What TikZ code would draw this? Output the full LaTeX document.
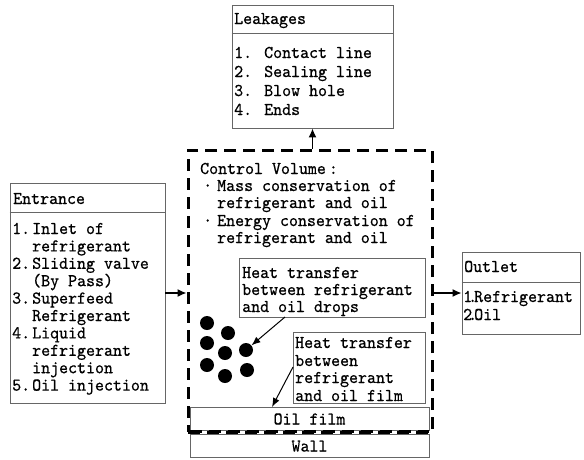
\documentclass[tikz,border=0pt]{standalone}
\usepackage{fontspec}
\setmonofont{lmmono10-regular.otf}[FakeStretch=0.95, FakeBold=0.6]
\usetikzlibrary{arrows.meta}
\definecolor{boxgray}{gray}{0.4}
\tikzset{
  box/.style={draw=boxgray, line width=0.9pt, fill=white, rectangle, inner sep=0pt},
  txt/.style={anchor=base west, inner sep=0pt, font=\ttfamily\fontsize{18}{17}\selectfont},
  ctxt/.style={anchor=base, inner sep=0pt, font=\ttfamily\fontsize{18}{17}\selectfont},
  cvline/.style={draw=black, line width=3pt, dash pattern=on 12pt off 7pt},
  arr/.style={line width=1.4pt, -{Latex[length=9pt,width=8pt]}},
  thinarr/.style={line width=1pt, -{Latex[length=9pt,width=7pt]}},
  dot/.style={circle, fill=black, inner sep=0pt, minimum size=14pt}
}
\newcommand{\nb}[2]{\makebox[#1][l]{#2}}
\begin{document}
\begin{tikzpicture}[x=1pt,y=-1pt]
\useasboundingbox (0,0) rectangle (584,459);
% control volume
\node[cvline, rectangle, minimum width=244pt, minimum height=282pt, inner sep=0pt] (cv) at (310,291) {};
% boxes
\node[box, minimum width=161pt, minimum height=123pt] (leak) at (312.5,66.5) {};
\node[box, minimum width=155pt, minimum height=220pt] (ent) at (87.5,293) {};
\node[box, minimum width=118pt, minimum height=82pt] (out) at (521,293) {};
\node[box, minimum width=186pt, minimum height=59pt] (drops) at (332,287.5) {};
\node[box, minimum width=132pt, minimum height=71pt] (film) at (359,367.5) {};
\node[box, minimum width=239pt, minimum height=23pt] (oil) at (309.5,418.5) {};
\node[box, minimum width=239pt, minimum height=23pt] (wall) at (309.5,445.5) {};
\draw[cvline] (oil.south west) ++(0,1.5) coordinate (bl) -- (oil.south east |- bl);
% title separators
\draw[draw=boxgray, line width=0.9pt] (leak.west |- 0,33) -- (leak.east |- 0,33);
\draw[draw=boxgray, line width=0.9pt] (ent.west |- 0,212) -- (ent.east |- 0,212);
\draw[draw=boxgray, line width=0.9pt] (out.west |- 0,282) -- (out.east |- 0,282);
% Leakages text
\node[txt] (l0) at (234,24) {Leakages};
\node[txt] (l1) at (234,58) {\nb{30pt}{1.}Contact line};
\node[txt] (l2) at (234,77) {\nb{30pt}{2.}Sealing line};
\node[txt] (l3) at (234,96) {\nb{30pt}{3.}Blow hole};
\node[txt] (l4) at (234,115) {\nb{30pt}{4.}Ends};
% Entrance text
\node[txt] (e0) at (13,204) {Entrance};
\node[txt] (e1) at (12,234) {\nb{20pt}{1.}Inlet of};
\node[txt] (e2) at (32,251.4) {refrigerant};
\node[txt] (e3) at (12,268.8) {\nb{20pt}{2.}Sliding valve};
\node[txt] (e4) at (32,286.2) {(By Pass)};
\node[txt] (e5) at (12,303.6) {\nb{20pt}{3.}Superfeed};
\node[txt] (e6) at (32,321) {Refrigerant};
\node[txt] (e7) at (12,338.4) {\nb{20pt}{4.}Liquid};
\node[txt] (e8) at (32,355.8) {refrigerant};
\node[txt] (e9) at (32,373.2) {injection};
\node[txt] (e10) at (12,390.6) {\nb{20pt}{5.}Oil injection};
% Outlet text
\node[txt] (o0) at (464,272) {Outlet};
\node[txt] (o1) at (463,302) {\nb{11pt}{1\kern-4pt.}Refrigerant};
\node[txt] (o2) at (463,320) {\nb{11pt}{2\kern-4pt.}Oil};
% Control volume text
\node[txt] (c0) at (200,174) {Control Volume\,:};
\node[txt] (c1) at (203,191) {\nb{14pt}{·}Mass conservation of};
\node[txt] (c2) at (217,208) {refrigerant and oil};
\node[txt] (c3) at (203,226) {\nb{14pt}{·}Energy conservation of};
\node[txt] (c4) at (217,243) {refrigerant and oil};
% drops box text
\node[txt] (h1) at (242,278) {Heat transfer};
\node[txt] (h2) at (242,295) {between refrigerant};
\node[txt] (h3) at (242,312) {and oil drops};
% film box text
\node[txt] (f1) at (295,348) {Heat transfer};
\node[txt] (f2) at (295,366) {between};
\node[txt] (f3) at (295,383) {refrigerant};
\node[txt] (f4) at (295,401) {and oil film};
% oil film and wall labels
\node[ctxt] (ot) at (309.5,424.5) {Oil film};
\node[ctxt] (wt) at (309.5,451.5) {Wall};
% dots
\node[dot] (d1) at (207,323) {};
\node[dot] (d2) at (228,333) {};
\node[dot] (d3) at (207,343) {};
\node[dot] (d4) at (225,353) {};
\node[dot] (d5) at (246,350) {};
\node[dot] (d6) at (207,365) {};
\node[dot] (d7) at (225,376) {};
\node[dot] (d8) at (247,370) {};
% arrows
\draw[arr] (ent.east) -- (cv.west |- ent.east);
\draw[arr] (cv.east |- out.west) -- (out.west);
\draw[arr] (cv.north -| leak.south) -- (leak.south);
\coordinate (da) at (285,317);
\draw[thinarr] (da) -- (d5);
\coordinate (fa) at (293,367);
\coordinate (fb) at (272,407);
\draw[thinarr] (fa) -- (fb);
\end{tikzpicture}
\end{document}
